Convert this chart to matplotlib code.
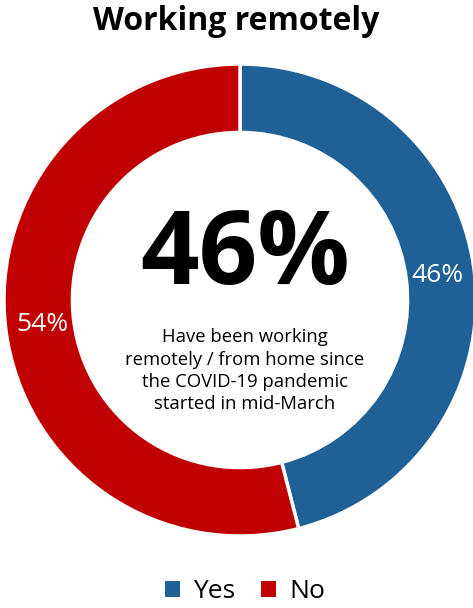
import matplotlib
matplotlib.use("Agg")
import matplotlib.pyplot as plt
from matplotlib.patches import Patch
import numpy as np

categories = ["Yes", "No"]
values = [46, 54]
colors = ["#1F6096", "#C00000"]
headline = "46%"
caption = ("Have been working\nremotely / from home since\n"
           "the COVID-19 pandemic\nstarted in mid-March")

plt.rcParams['font.family'] = ['Open Sans', 'DejaVu Sans']

W, H = 473, 608
fig = plt.figure(figsize=(W / 100, H / 100), dpi=100)
cx, cy, r = 240, 300, 236
ax = fig.add_axes([(cx - r) / W, (H - cy - r) / H, 2 * r / W, 2 * r / H])

ring = 0.29
wedges, texts = ax.pie(values, colors=colors, startangle=90, counterclock=False,
                       radius=1.0,
                       wedgeprops=dict(width=ring, edgecolor='white', linewidth=2.5))
ax.set_xlim(-1, 1)
ax.set_ylim(-1, 1)
ax.set_aspect('equal')
ax.axis('off')

# value labels at the middle of each ring segment
rr = 1 - ring / 2 - 0.01
for v, w in zip(values, wedges):
    mid = np.deg2rad((w.theta1 + w.theta2) / 2)
    ax.text(rr * np.cos(mid), rr * np.sin(mid), f"{v}%", color='white',
            fontsize=19, ha='center', va='center')

ax.text(0.02, 0.18, headline, fontsize=74, fontweight='bold', ha='center', va='center')
ax.text(0.02, -0.30, caption, fontsize=13.3, ha='center', va='center', linespacing=1.3)

fig.text(0.5, 1 - 22 / H, "Working remotely", fontsize=23, fontweight='bold',
         ha='center', va='center')

handles = [Patch(facecolor=c, edgecolor='none') for c in colors]
fig.legend(handles, categories, loc='center', bbox_to_anchor=(245 / W, 1 - 592 / H),
           ncol=2, frameon=False, fontsize=19, handlelength=0.55, handleheight=0.55,
           handletextpad=0.5, columnspacing=1.0)

fig.savefig("out.png", dpi=100)
